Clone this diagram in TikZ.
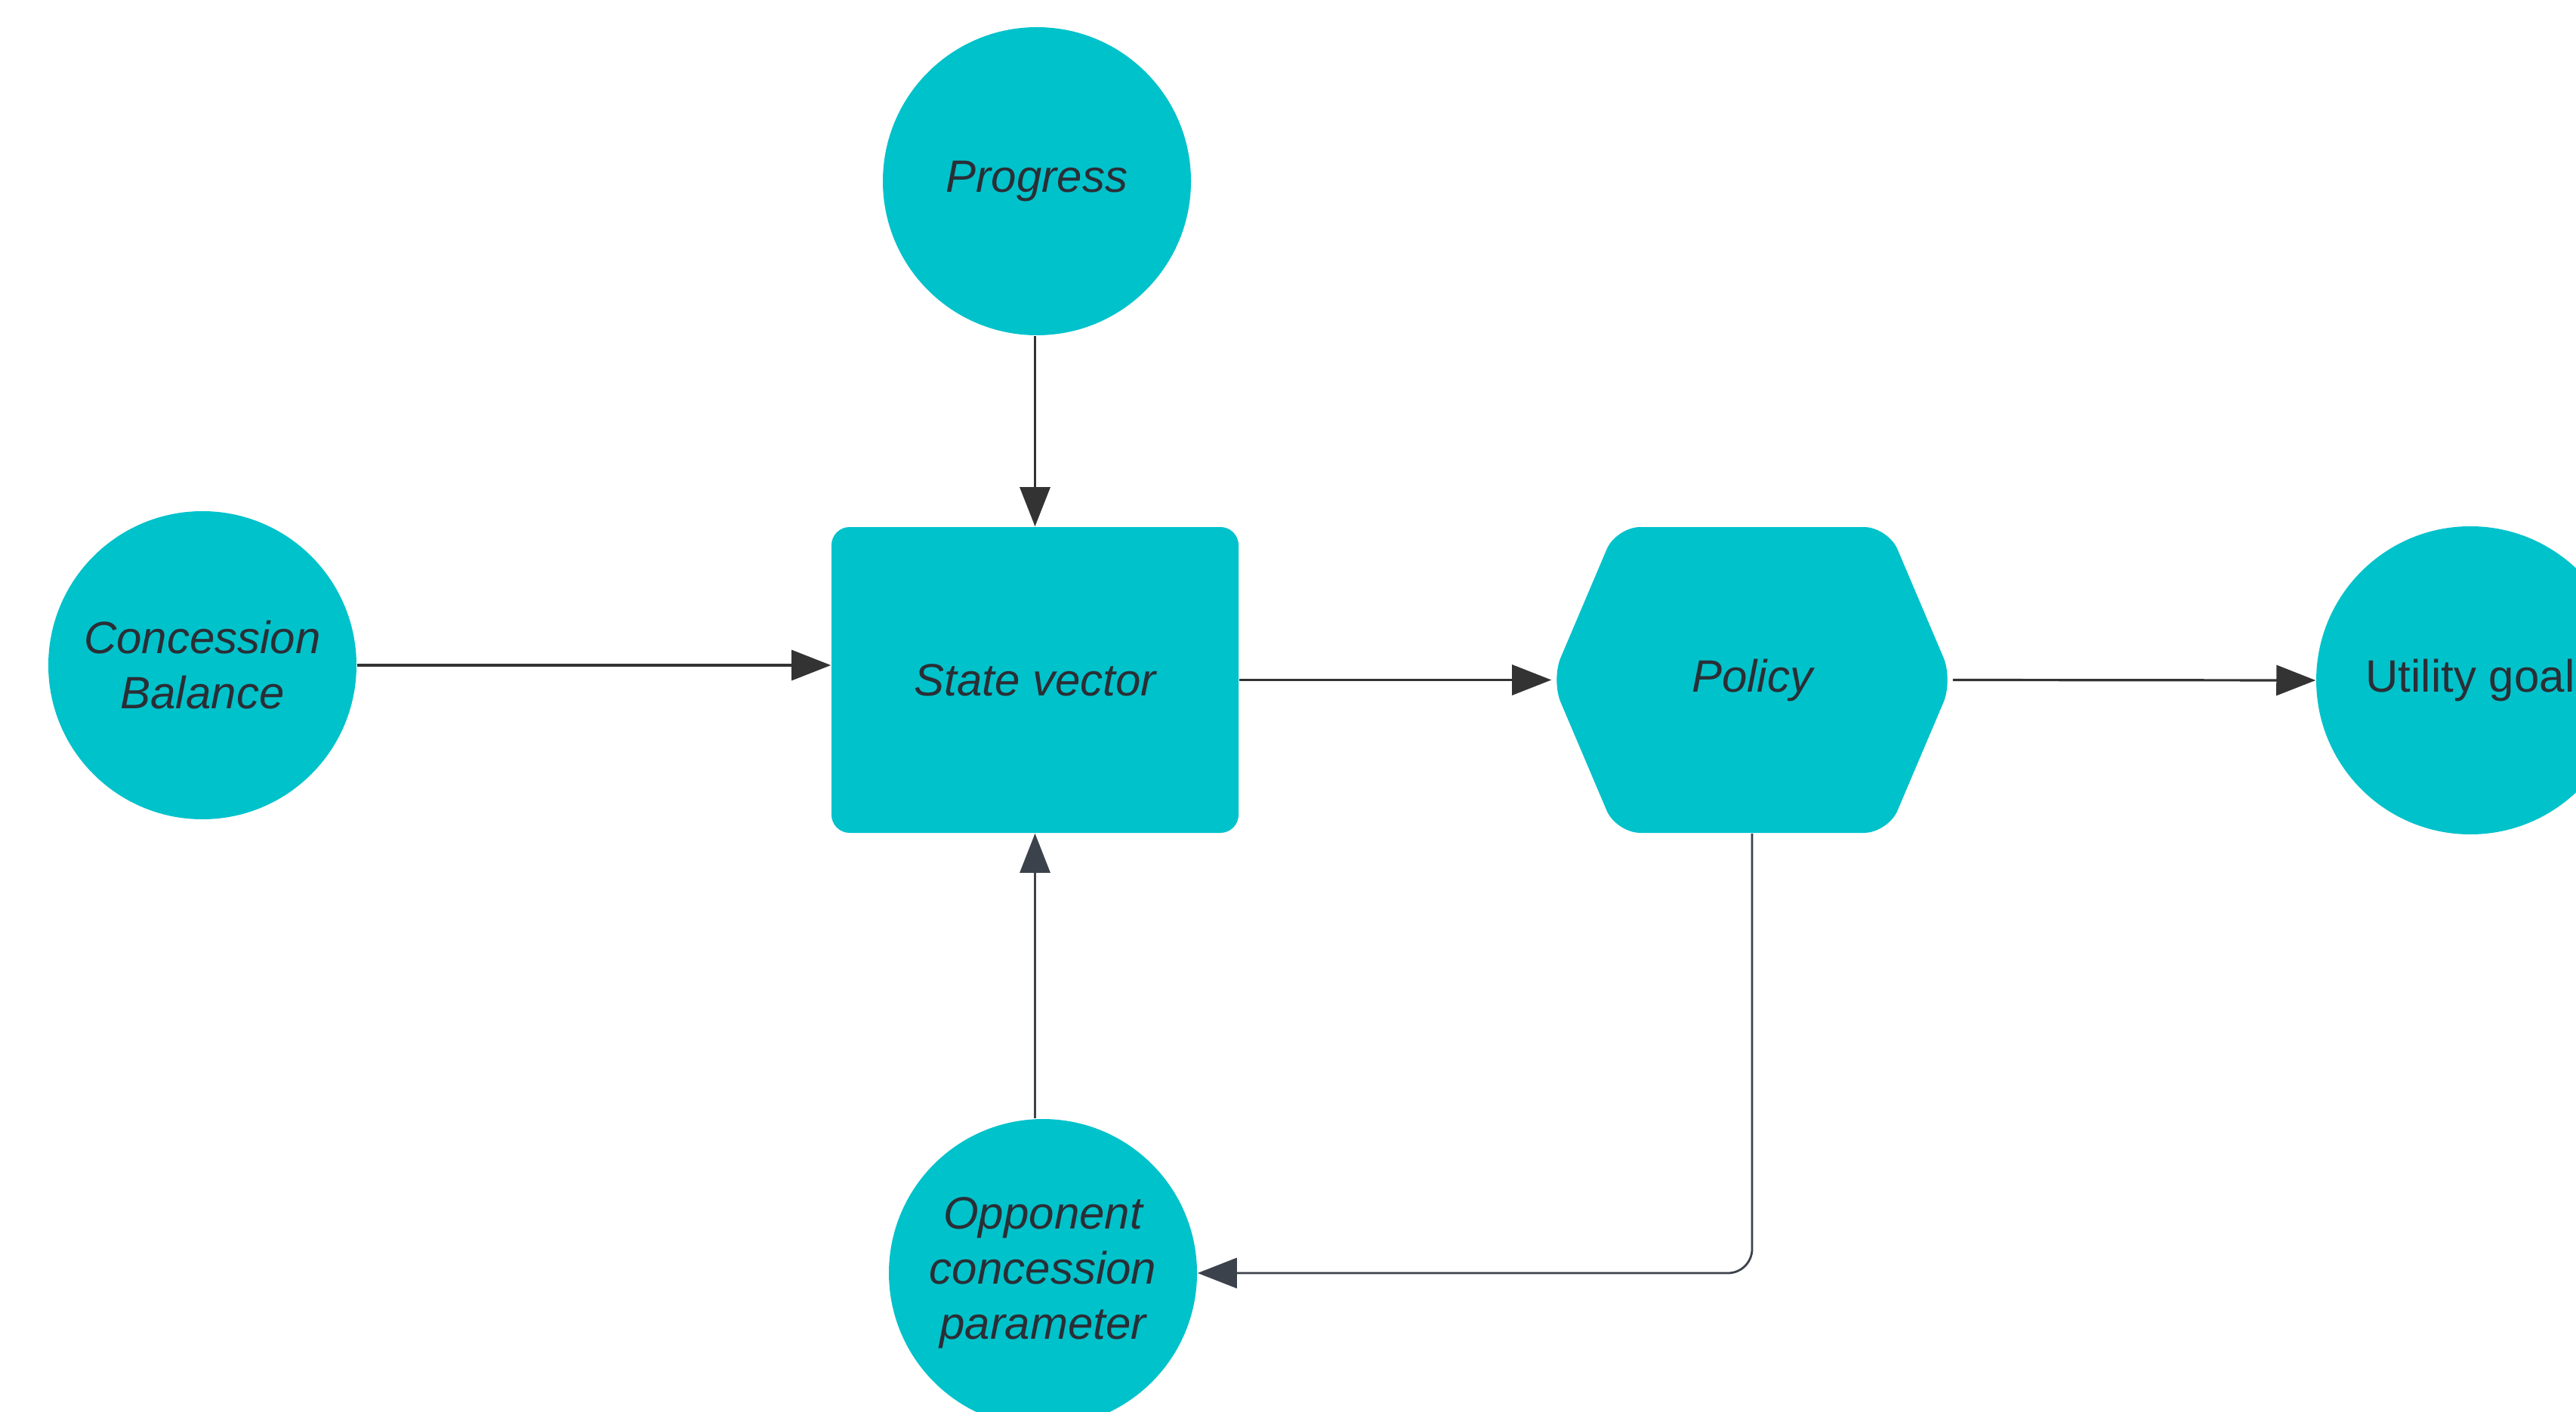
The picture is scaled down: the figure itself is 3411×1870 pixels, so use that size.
\documentclass[tikz,border=0pt]{standalone}
\usepackage{fontspec}
\setmainfont{Liberation Sans}
\usetikzlibrary{arrows.meta}
\definecolor{teal}{HTML}{00C2CB}
\definecolor{ink}{HTML}{2A2E35}
\definecolor{wire}{HTML}{333333}
\definecolor{wiregrey}{HTML}{3C424B}
\begin{document}
\begin{tikzpicture}[x=0.25pt,y=-0.25pt,
  lbl/.style={font=\fontsize{15pt}{18.25pt}\selectfont\itshape, text=ink, align=center, inner sep=0pt},
  disc/.style={circle, fill=teal, minimum size=102pt, inner sep=0pt},
  conn/.style={draw=wire, line width=0.8pt, -{Triangle[length=13pt,width=10pt]}},
  conng/.style={draw=wiregrey, line width=0.7pt, -{Triangle[length=13pt,width=10pt]}}]
\useasboundingbox (0,0) rectangle (3411,1870);
\clip (0,0) rectangle (3411,1870);
% nodes
\node[disc, lbl] (pr) at (1373,240) {Progress};
\node[disc, lbl] (cb) at (268,881) {Concession\\Balance};
\node[rectangle, fill=teal, rounded corners=6pt, minimum width=134.75pt, minimum height=101.25pt, lbl] (sv) at (1370.5,900.5) {State vector};
% hexagon
\fill[teal, rounded corners=8pt] (2054,900.5) -- (2140,698) -- (2500,698) -- (2586,900.5) -- (2500,1103) -- (2140,1103) -- cycle;
\node[rectangle, minimum width=132.5pt, minimum height=101.25pt, lbl] (po) at (2320,900.5) {Policy};
\node[disc, lbl, font=\fontsize{15pt}{18.25pt}\selectfont\upshape] (ug) at (3271,901) {Utility goal};
\node[disc, lbl] (op) at (1381,1686) {Opponent\\concession\\parameter};
% connectors
\draw[conn] (sv.north |- pr.south) -- (sv.north);
\draw[conn] (cb.east) -- (cb.east -| sv.west);
\draw[conn] (sv.east) -- (po.west);
\draw[conn] (po.east) -- (ug.west);
\draw[conng] (sv.south |- op.north) -- (sv.south);
\draw[conng, rounded corners=8pt] (po.south) |- (op.east);
\end{tikzpicture}
\end{document}
